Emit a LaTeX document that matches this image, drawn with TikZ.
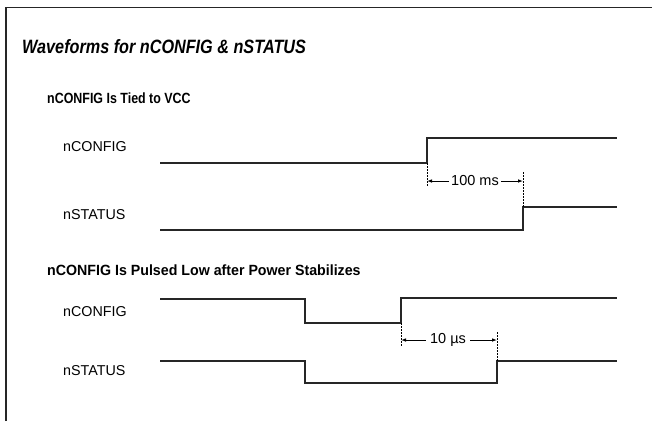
\documentclass[tikz,border=0pt]{standalone}
\usepackage{fontspec}
\setmainfont{Liberation Sans}
\newfontfamily\condfont[FakeStretch=0.84]{Liberation Sans}
\newfontfamily\semicondfont[FakeStretch=0.96]{Liberation Sans}
\usetikzlibrary{arrows.meta}
\begin{document}
\begin{tikzpicture}[x=1pt,y=-1pt,
  wave/.style={line width=1.2pt, draw=black!85},
  frame/.style={line width=1.3pt, draw=black!85},
  lab/.style={inner sep=0pt, anchor=west, font=\fontsize{14.3}{16}\selectfont},
  head/.style={inner sep=0pt, anchor=west, font=\condfont\bfseries\fontsize{14.8}{17}\selectfont},
  headwide/.style={inner sep=0pt, anchor=west, font=\semicondfont\bfseries\fontsize{14.8}{17}\selectfont},
  ttl/.style={inner sep=0pt, anchor=west, font=\condfont\bfseries\itshape\fontsize{19.3}{22}\selectfont},
  dim/.style={inner sep=0pt, font=\fontsize{14.5}{16}\selectfont},
  guide/.style={line width=0.9pt, dash pattern=on 1.5pt off 1.5pt},
  dimarrow/.style={line width=0.9pt, -{Latex[length=5pt,width=3.6pt]}}
]
\useasboundingbox (0,0) rectangle (652,421);
% frame
\coordinate (fb) at (6,421);
\coordinate (ftl) at (6,7.5);
\coordinate (ftr) at (652,7.5);
\draw[frame] (fb) -- (ftl) -- (ftr);

% titles
\node[ttl] (title) at (22,47) {Waveforms for nCONFIG \& nSTATUS};
\node[head] (h1) at (47,98) {nCONFIG Is Tied to VCC};
\node[headwide] (h2) at (47,270) {nCONFIG Is Pulsed Low after Power Stabilizes};

% labels
\node[lab] (l1) at (63,147) {nCONFIG};
\node[lab] (l2) at (63,215) {nSTATUS};
\node[lab] (l3) at (63,312) {nCONFIG};
\node[lab] (l4) at (63,371) {nSTATUS};

% top nCONFIG
\coordinate (a0) at (160,163);
\coordinate (a1) at (427,163);
\coordinate (a2) at (427,138);
\coordinate (a3) at (617,138);
\draw[wave] (a0) -- (a1) -- (a2) -- (a3);
% top nSTATUS
\coordinate (b0) at (160,230);
\coordinate (b1) at (523,230);
\coordinate (b2) at (523,207);
\coordinate (b3) at (617,207);
\draw[wave] (b0) -- (b1) -- (b2) -- (b3);
% guides top
\coordinate (g1e) at (427,187);
\coordinate (g2s) at (523,172);
\draw[guide] (a1) -- (g1e);
\draw[guide] (g2s) -- (b2);
\node[dim] (t1) at (475,181) {100 ms};
\coordinate (d1l) at (427,181);
\coordinate (d1r) at (523,181);
\draw[dimarrow] ([xshift=-2pt]t1.west) -- (d1l);
\draw[dimarrow] ([xshift=2pt]t1.east) -- (d1r);

% bottom nCONFIG
\coordinate (c0) at (160,299);
\coordinate (c1) at (305,299);
\coordinate (c2) at (305,323);
\coordinate (c3) at (401,323);
\coordinate (c4) at (401,298);
\coordinate (c5) at (617,298);
\draw[wave] (c0) -- (c1) -- (c2) -- (c3) -- (c4) -- (c5);
% bottom nSTATUS
\coordinate (e0) at (160,361);
\coordinate (e1) at (305,361);
\coordinate (e2) at (305,383);
\coordinate (e3) at (497,383);
\coordinate (e4) at (497,361);
\coordinate (e5) at (617,361);
\draw[wave] (e0) -- (e1) -- (e2) -- (e3) -- (e4) -- (e5);
% guides bottom
\coordinate (g3e) at (401,347);
\coordinate (g4s) at (497,332);
\draw[guide] (c3) -- (g3e);
\draw[guide] (g4s) -- (e4);
\node[dim] (t2) at (448,340) {10 µs};
\coordinate (d2l) at (401,340);
\coordinate (d2r) at (497,340);
\draw[dimarrow] ([xshift=-4pt]t2.west) -- (d2l);
\draw[dimarrow] ([xshift=4pt]t2.east) -- (d2r);
\end{tikzpicture}
\end{document}
